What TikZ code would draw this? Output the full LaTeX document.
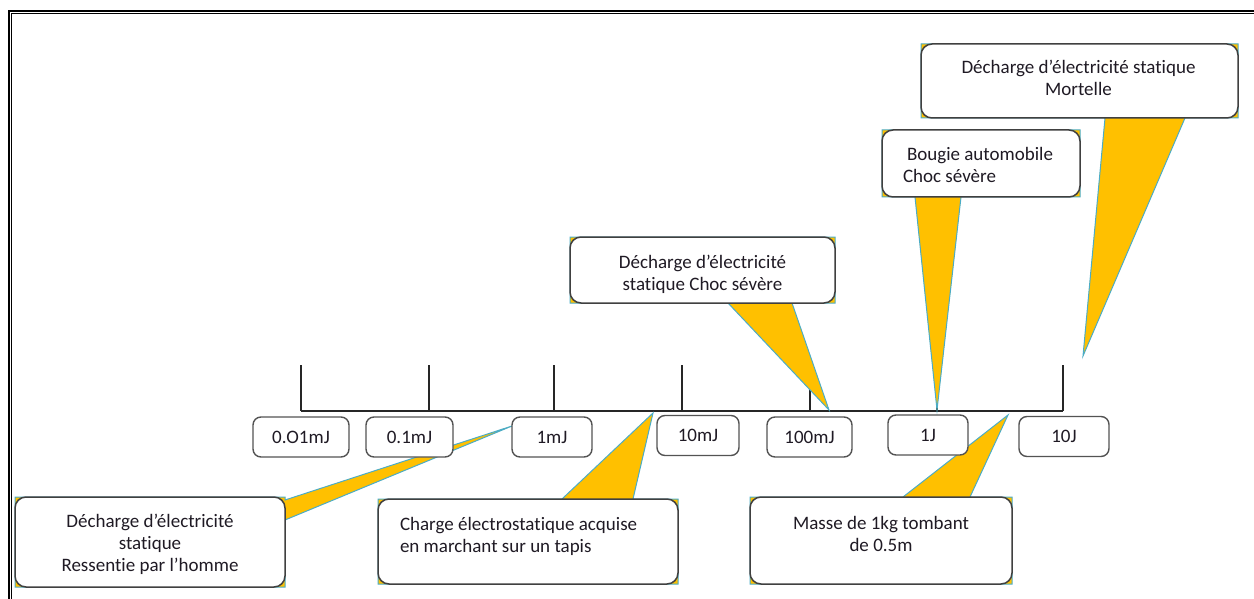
\documentclass[tikz,border=0pt]{standalone}
\usepackage{fontspec}
\setmainfont{Carlito}[Ligatures={TeX,NoCommon}]
\usetikzlibrary{backgrounds}
\definecolor{calloutyellow}{HTML}{FFC000}
\definecolor{calloutblue}{HTML}{4BACC6}
\definecolor{framegray}{HTML}{404040}
\definecolor{inkdark}{HTML}{1F1A24}

\begin{document}
\begin{tikzpicture}[x=1pt, y=-1pt,
  labeltext/.style={font=\fontsize{19}{22}\selectfont, text=inkdark, inner sep=0pt, outer sep=0pt},
  valbox/.style={labeltext, draw=framegray!90, line width=1.4pt, rounded corners=8pt,
                 fill=white, minimum height=40pt},
  notebox/.style={draw=framegray, line width=1.5pt, rounded corners=11pt, fill=white,
                  inner sep=0pt, outer sep=0pt},
  notetext/.style={labeltext},
  wedgefill/.style={fill=calloutyellow, draw=calloutblue, line width=1pt, line join=miter},
  axisline/.style={draw=black!85, line width=1.3pt},
]
\useasboundingbox (0,0) rectangle (1254,599);

% double page frame (top and left)
\draw[line width=2pt] (9,599) -- (9,11) -- (1254,11);
\draw[line width=1pt] (11.5,599) -- (11.5,13.5) -- (1254,13.5);

% energy scale: axis points
\coordinate (a1) at (301,411);
\coordinate (a2) at (429,411);
\coordinate (a3) at (554,411);
\coordinate (a4) at (682,411);
\coordinate (a5) at (810,411);
\coordinate (a6) at (937,411);
\coordinate (a7) at (1063,411);

% callout tips
\coordinate (tip1) at (512,426);
\coordinate (tip2) at (653,413);
\coordinate (tip3) at (829,410);
\coordinate (tip4) at (937,410);
\coordinate (tip5) at (1083,356);
\coordinate (tip6) at (1008,415);

% callout boxes
\node[notebox, minimum width=270pt, minimum height=90pt] (n1) at (150,542) {};
\node[notebox, minimum width=300pt, minimum height=85pt] (n2) at (528,541.5) {};
\node[notebox, minimum width=265pt, minimum height=66pt] (n3) at (702.5,270) {};
\node[notebox, minimum width=198pt, minimum height=67pt] (n4) at (981,163.5) {};
\node[notebox, minimum width=317pt, minimum height=74pt] (n5) at (1079.5,81) {};
\node[notebox, minimum width=262pt, minimum height=87pt] (n6) at (881,540.5) {};

% callout texts
\node[notetext, align=center] (t1) at (150,544.5)
  {Décharge d’électricité\\statique\\Ressentie par l’homme};
\node[notetext, align=left, anchor=west] (t2) at (400,536.5)
  {Charge électrostatique acquise\\en marchant sur un tapis};
\node[notetext, align=center] (t3) at (702.5,274)
  {Décharge d’électricité\\statique Choc sévère};
\node[notetext, align=left, anchor=west] (t4) at (903,165)
  {\hspace*{4pt}Bougie automobile\\Choc sévère};
\node[notetext, align=center] (t5) at (1078.5,78)
  {Décharge d’électricité statique\\Mortelle};
\node[notetext, align=center] (t6) at (881,534)
  {Masse de 1kg tombant\\de 0.5m};

% value labels under the scale
\node[valbox, minimum width=96pt] (v1) at (301,437) {0.O1mJ};
\node[valbox, minimum width=87pt] (v2) at (409.5,437) {0.1mJ};
\node[valbox, minimum width=80pt] (v3) at (552,437) {1mJ};
\node[valbox, minimum width=82pt] (v4) at (698,435.5) {10mJ};
\node[valbox, minimum width=85pt] (v5) at (809.5,437) {100mJ};
\node[valbox, minimum width=80pt] (v6) at (928,435) {1J};
\node[valbox, minimum width=90pt] (v7) at (1064,436.5) {10J};

\begin{pgfonlayer}{background}
  % axis and ticks
  \draw[axisline] (a1) -- (a7);
  \foreach \i in {1,...,7} \draw[axisline] (a\i) -- ++(0,-46);

  % callout bodies with their pointers
  \path[wedgefill] (n1.north west) -- (n1.north east) -- (285,500) -- (tip1)
    -- (285,520) -- (n1.south east) -- (n1.south west) -- cycle;
  \path[wedgefill] (n2.north west) -- (562,499) -- (tip2) -- (633,499)
    -- (n2.north east) -- (n2.south east) -- (n2.south west) -- cycle;
  \path[wedgefill] (n3.north west) -- (n3.north east) -- (n3.south east)
    -- (792,303) -- (tip3) -- (728,303) -- (n3.south west) -- cycle;
  \path[wedgefill] (n4.north west) -- (n4.north east) -- (n4.south east)
    -- (961,197) -- (tip4) -- (915,197) -- (n4.south west) -- cycle;
  \path[wedgefill] (n5.north west) -- (n5.north east) -- (n5.south east)
    -- (1185,118) -- (tip5) -- (1105,118) -- (n5.south west) -- cycle;
  \path[wedgefill] (n6.north west) -- (903,497) -- (tip6) -- (970,497)
    -- (n6.north east) -- (n6.south east) -- (n6.south west) -- cycle;
\end{pgfonlayer}
\end{tikzpicture}
\end{document}
